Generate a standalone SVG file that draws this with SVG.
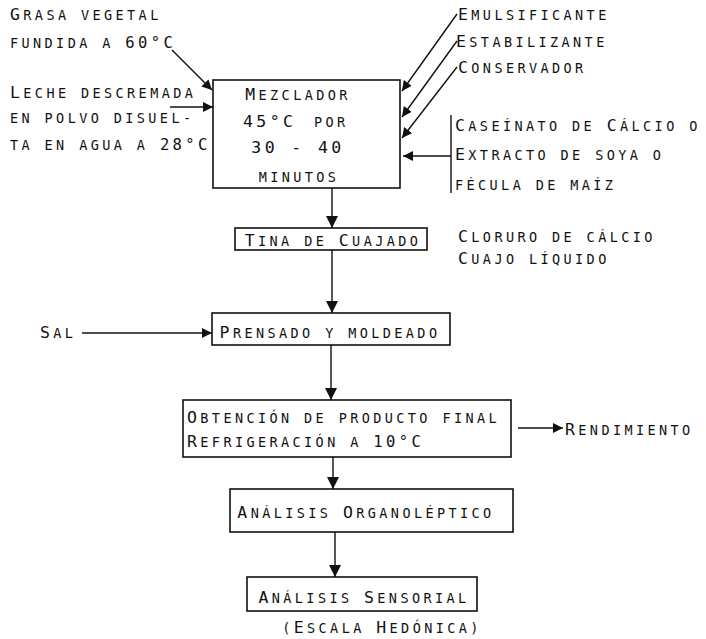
<svg xmlns="http://www.w3.org/2000/svg" width="706" height="639" viewBox="0 0 706 639">
<style>
text{font-family:"DejaVu Sans Mono","Liberation Mono",monospace;font-size:13.5px;letter-spacing:3.4px;fill:#111}
.b{font-size:16.5px}
.n{font-size:15.5px}
.box{fill:none;stroke:#111;stroke-width:1.6}
.ln{fill:none;stroke:#111;stroke-width:1.4}
</style>
<defs>
<marker id="ah" markerUnits="userSpaceOnUse" markerWidth="12" markerHeight="12" refX="10" refY="5" orient="auto">
<path d="M0,0 L10,5 L0,10 Z" fill="#111"/>
</marker>
<marker id="av" markerUnits="userSpaceOnUse" markerWidth="14" markerHeight="14" refX="12" refY="6" orient="auto">
<path d="M0,0 L12,6 L0,12 Z" fill="#111"/>
</marker>
</defs>
<rect width="706" height="639" fill="#fff"/>

<g id="inputs-left">
<text x="10" y="20"><tspan class="b">G</tspan>RASA VEGETAL</text>
<text x="10" y="48">FUNDIDA A <tspan class="n">60°C</tspan></text>
<text x="10" y="98"><tspan class="b">L</tspan>ECHE DESCREMADA</text>
<text x="10" y="123">EN POLVO DISUEL-</text>
<text x="10" y="150">TA EN AGUA A <tspan class="n">28°C</tspan></text>
</g>

<g id="mezclador">
<rect class="box" x="213" y="80" width="187" height="108"/>
<text x="298" y="100" text-anchor="middle"><tspan class="b">M</tspan>EZCLADOR</text>
<text x="243" y="127" class="b">45°C</text>
<text x="314" y="127">POR</text>
<text x="298" y="153" text-anchor="middle" class="b">30 - 40</text>
<text x="299" y="182" text-anchor="middle">MINUTOS</text>
</g>

<g id="inputs-right">
<text x="458" y="20"><tspan class="b">E</tspan>MULSIFICANTE</text>
<text x="456" y="47"><tspan class="b">E</tspan>STABILIZANTE</text>
<text x="458" y="73"><tspan class="b">C</tspan>ONSERVADOR</text>
<text x="455" y="131"><tspan class="b">C</tspan>ASEÍNATO DE <tspan class="b">C</tspan>ÁLCIO O</text>
<text x="455" y="160"><tspan class="b">E</tspan>XTRACTO DE SOYA O</text>
<text x="455" y="190">FÉCULA DE MAÍZ</text>
</g>

<g id="tina">
<rect class="box" x="235" y="228" width="192" height="22"/>
<text x="333" y="246" text-anchor="middle"><tspan class="b">T</tspan>INA DE <tspan class="b">C</tspan>UAJADO</text>
</g>

<g id="coagulantes">
<text x="458" y="242"><tspan class="b">C</tspan>LORURO DE CÁLCIO</text>
<text x="458" y="264"><tspan class="b">C</tspan>UAJO LÍQUIDO</text>
</g>

<g id="sal">
<text x="40" y="338"><tspan class="b">S</tspan>AL</text>
</g>

<g id="prensado">
<rect class="box" x="212" y="313" width="238" height="32"/>
<text x="330" y="338" text-anchor="middle"><tspan class="b">P</tspan>RENSADO Y MOLDEADO</text>
</g>

<g id="obtencion">
<rect class="box" x="183" y="400" width="328" height="57"/>
<text x="187" y="423"><tspan class="b">O</tspan>BTENCIÓN DE PRODUCTO FINAL</text>
<text x="187" y="447"><tspan class="b">R</tspan>EFRIGERACIÓN A <tspan class="n">10°C</tspan></text>
</g>

<g id="rendimiento">
<text x="565" y="435"><tspan class="b">R</tspan>ENDIMIENTO</text>
</g>

<g id="organoleptico">
<rect class="box" x="230" y="489" width="283" height="43"/>
<text x="366" y="518" text-anchor="middle"><tspan class="b">A</tspan>NÁLISIS <tspan class="b">O</tspan>RGANOLÉPTICO</text>
</g>

<g id="sensorial">
<rect class="box" x="247" y="577" width="230" height="34"/>
<text x="364" y="603" text-anchor="middle"><tspan class="b">A</tspan>NÁLISIS <tspan class="b">S</tspan>ENSORIAL</text>
<text x="382" y="633" text-anchor="middle">(<tspan class="b">E</tspan>SCALA <tspan class="b">H</tspan>EDÓNICA)</text>
</g>

<g id="connectors">
<line class="ln" x1="172" y1="50" x2="212" y2="90" marker-end="url(#ah)"/>
<line class="ln" x1="170" y1="107" x2="213" y2="107" marker-end="url(#ah)"/>
<line class="ln" x1="457" y1="14" x2="402" y2="91" marker-end="url(#ah)"/>
<line class="ln" x1="457" y1="41" x2="402" y2="117" marker-end="url(#ah)"/>
<line class="ln" x1="457" y1="67" x2="402" y2="138" marker-end="url(#ah)"/>
<line class="ln" x1="451" y1="115" x2="451" y2="193"/>
<line class="ln" x1="451" y1="156" x2="403" y2="156" marker-end="url(#ah)"/>
<line class="ln" x1="332" y1="188" x2="332" y2="228" marker-end="url(#av)"/>
<line class="ln" x1="332" y1="250" x2="332" y2="313" marker-end="url(#av)"/>
<line class="ln" x1="82" y1="333" x2="212" y2="333" marker-end="url(#ah)"/>
<line class="ln" x1="331" y1="345" x2="331" y2="400" marker-end="url(#av)"/>
<line class="ln" x1="518" y1="428" x2="563" y2="428" marker-end="url(#ah)"/>
<line class="ln" x1="333" y1="457" x2="333" y2="489" marker-end="url(#av)"/>
<line class="ln" x1="335" y1="532" x2="335" y2="577" marker-end="url(#av)"/>
</g>
</svg>
